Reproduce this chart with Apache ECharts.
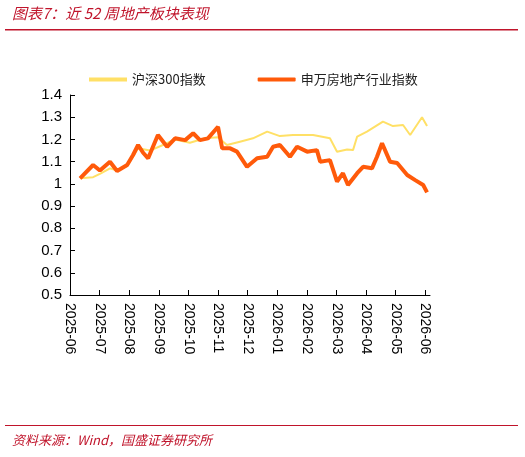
<!DOCTYPE html><html><head><meta charset="utf-8"><script src="https://cdn.jsdelivr.net/npm/echarts@6/dist/echarts.min.js"></script>
<style>body{margin:0}#c{width:525px;height:457px}</style></head><body><div id="c"></div><script>
const monthLabels=["2025-06","2025-07","2025-08","2025-09","2025-10","2025-11","2025-12","2026-01","2026-02","2026-03","2026-04","2026-05","2026-06"];
const hsT=[0.34,0.78,1.01,1.35,1.59,1.93,2.30,2.70,3.14,3.55,4.05,4.56,5.0,5.30,5.74,6.18,6.66,7.09,7.53,8.21,8.78,9.02,9.36,9.56,9.70,10.03,10.57,10.91,11.25,11.49,11.89,12.06];
const hsV=[1.025,1.03,1.045,1.07,1.06,1.08,1.16,1.15,1.175,1.2,1.185,1.205,1.21,1.175,1.19,1.205,1.235,1.215,1.22,1.22,1.205,1.145,1.155,1.152,1.213,1.235,1.28,1.26,1.265,1.22,1.30,1.26];
const reT=[0.34,0.78,1.01,1.35,1.59,1.93,2.13,2.30,2.47,2.64,2.97,3.28,3.55,3.89,4.16,4.39,4.66,5.0,5.14,5.41,5.64,5.98,6.32,6.66,6.86,7.09,7.43,7.67,8.01,8.34,8.45,8.78,9.02,9.22,9.39,9.70,9.90,10.20,10.37,10.54,10.81,11.05,11.39,11.66,11.93,12.06];
const reV=[1.025,1.085,1.06,1.10,1.058,1.085,1.13,1.175,1.14,1.115,1.22,1.167,1.205,1.197,1.228,1.197,1.205,1.257,1.16,1.16,1.145,1.077,1.115,1.122,1.167,1.175,1.122,1.167,1.145,1.152,1.10,1.107,1.01,1.048,0.995,1.048,1.077,1.07,1.122,1.183,1.10,1.094,1.04,1.017,0.995,0.962];
const ch=echarts.init(document.getElementById('c'));
ch.setOption({
 animation:false,
 graphic:[
  {type:'text',left:12,top:6,style:{text:'图表7：近 52 周地产板块表现',fill:'#C0142B',font:'italic 15px "Noto Sans CJK SC"'}},
  {type:'rect',shape:{x:5,y:29,width:513,height:1.5},style:{fill:'#C0142B'}},
  {type:'rect',shape:{x:5,y:425,width:513,height:1},style:{fill:'#C0142B'}},
  {type:'text',left:12,top:434,style:{text:'资料来源：Wind，国盛证券研究所',fill:'#C0142B',font:'italic 13px "Noto Sans CJK SC"'}}
 ],
 legend:{top:68,left:84,itemGap:52,itemWidth:38,itemHeight:4,textStyle:{fontSize:13,color:'#222',fontFamily:'Noto Sans CJK SC'},
  data:[{name:'沪深300指数',icon:'rect'},{name:'申万房地产行业指数',icon:'roundRect'}]},
 grid:{left:70,right:95,top:95,bottom:162,containLabel:false},
 xAxis:{type:'value',min:0,max:12.16,interval:1,
  axisLine:{lineStyle:{color:'#000'}},axisTick:{show:true,inside:true,lineStyle:{color:'#000'}},splitLine:{show:false},
  axisLabel:{rotate:-90,fontSize:14,color:'#000',margin:8,showMaxLabel:false,formatter:v=>monthLabels[Math.round(v)]||''}},
 yAxis:{type:'value',min:0.5,max:1.4,interval:0.1,
  axisLine:{show:true,lineStyle:{color:'#000'}},axisTick:{show:true,inside:true,lineStyle:{color:'#000'}},splitLine:{show:false},
  axisLabel:{fontSize:15,color:'#000',formatter:v=>String(+v.toFixed(1))}},
 series:[
  {name:'沪深300指数',type:'line',showSymbol:false,data:hsT.map((t,i)=>[t,hsV[i]]),itemStyle:{color:'#FFE066'},lineStyle:{color:'#FFE066',width:2}},
  {name:'申万房地产行业指数',type:'line',showSymbol:false,data:reT.map((t,i)=>[t,reV[i]]),itemStyle:{color:'#FF5A0A'},lineStyle:{color:'#FF5A0A',width:4}}
 ]
});
</script></body></html>
